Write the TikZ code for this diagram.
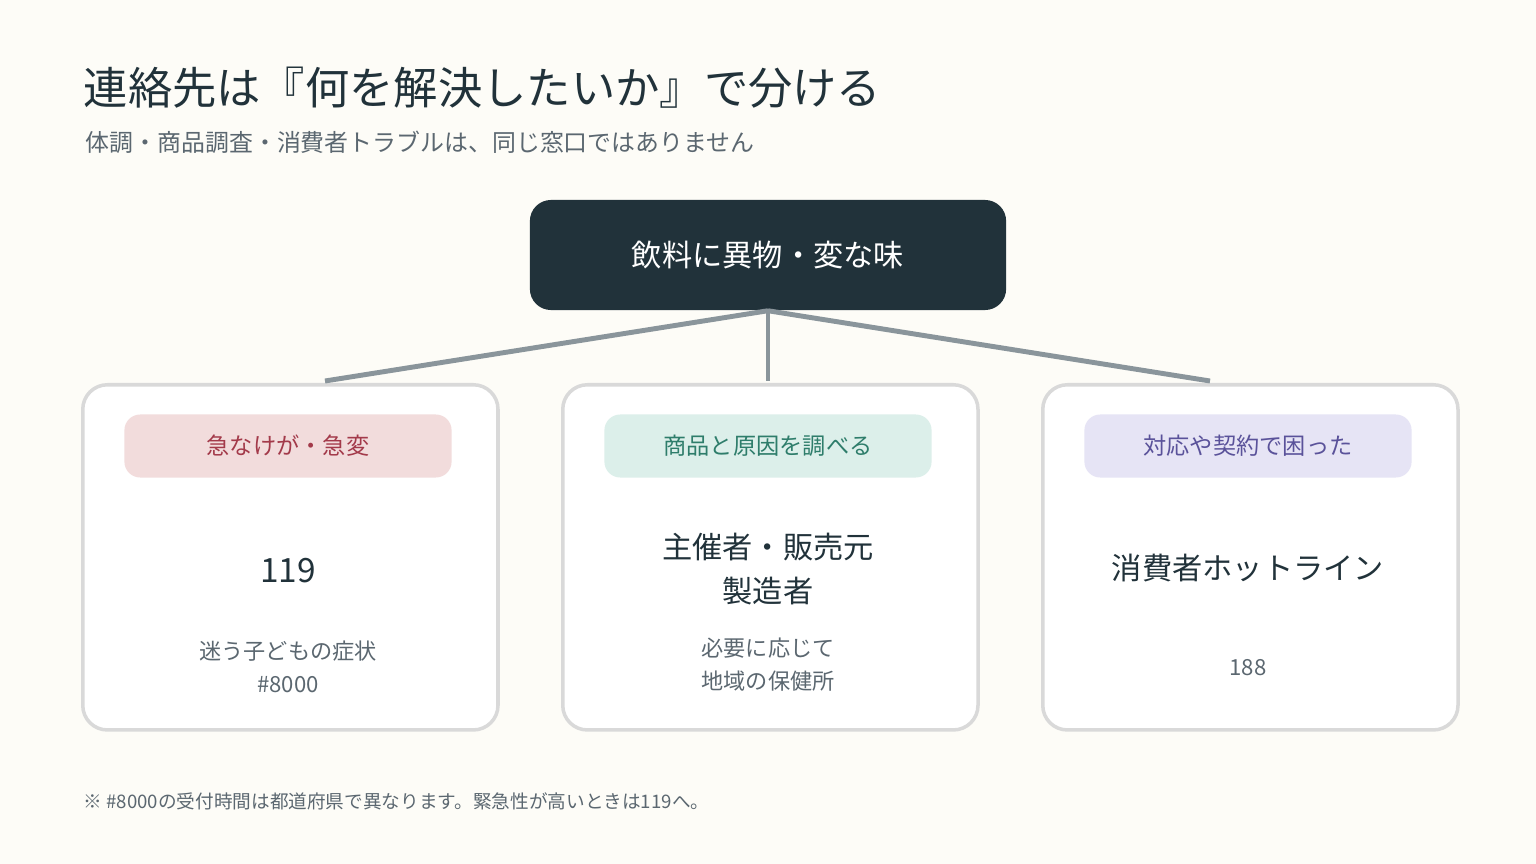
\documentclass[tikz,border=0pt]{standalone}
\usepackage{fontspec}
\setmainfont{Noto Sans CJK JP}
\usetikzlibrary{positioning}
\definecolor{bgcol}{HTML}{FDFCF7}
\definecolor{ink}{HTML}{21323A}
\definecolor{subink}{HTML}{5B6770}
\definecolor{linkcol}{HTML}{8A959B}
\definecolor{edgecol}{HTML}{D9D9D9}
\definecolor{pinkbg}{HTML}{F2DCDC}
\definecolor{pinkfg}{HTML}{A33A4A}
\definecolor{tealbg}{HTML}{DCEFEA}
\definecolor{tealfg}{HTML}{2E7D6B}
\definecolor{lavbg}{HTML}{E6E4F5}
\definecolor{lavfg}{HTML}{5A529A}
\tikzset{
  card/.style={draw=edgecol,line width=1pt,fill=white,rounded corners=7pt,
    minimum width=4.15cm,minimum height=3.45cm,anchor=north west},
  pill/.style={rounded corners=4.5pt,minimum width=3.27cm,minimum height=0.63cm,
    font=\fontsize{6.6pt}{8pt}\selectfont},
  main/.style={text=ink,align=center,font=\fontsize{8.6pt}{12.6pt}\selectfont},
  small/.style={text=subink,align=center,font=\fontsize{6.3pt}{9.4pt}\selectfont},
  link/.style={draw=linkcol,line width=1.4pt}
}
\begin{document}
\begin{tikzpicture}[x=0.01cm,y=-0.01cm]
  \fill[bgcol] (0,0) rectangle (1536,864);
  \useasboundingbox (0,0) rectangle (1536,864);

  \node[anchor=base west,text=ink,font=\fontsize{12.6pt}{14pt}\selectfont,inner sep=0] (title) at (83,105)
    {連絡先は『何を解決したいか』で分ける};
  \node[anchor=base west,text=subink,font=\fontsize{6.8pt}{8pt}\selectfont,inner sep=0] (subtitle) at (85,152)
    {体調・商品調査・消費者トラブルは、同じ窓口ではありません};

  \node[fill=ink,rounded corners=6pt,minimum width=4.76cm,minimum height=1.1cm,
    text=white,font=\fontsize{8.6pt}{10pt}\selectfont] (topic) at (768,255) {飲料に異物・変な味};

  % three cards
  \node[card] (left) at (81,383) {};
  \node[card] (mid) at (561,383) {};
  \node[card] (right) at (1041,383) {};

  \coordinate (lend) at (325,381);
  \coordinate (mend) at (768,381);
  \coordinate (rend) at (1210,381);
  \draw[link] (topic.south) -- (lend);
  \draw[link] (topic.south) -- (mend);
  \draw[link] (topic.south) -- (rend);

  \node[pill,fill=pinkbg,text=pinkfg] (lpill) at (288,446) {急なけが・急変};
  \node[pill,fill=tealbg,text=tealfg] (mpill) at (768,446) {商品と原因を調べる};
  \node[pill,fill=lavbg,text=lavfg] (rpill) at (1248,446) {対応や契約で困った};

  \node[main,font=\fontsize{9.5pt}{12pt}\itshape\selectfont] (lmain) at (288,571) {119};
  \node[small] (lsub) at (288,667) {迷う子どもの症状\\\#8000};

  \node[main] (mmain) at (768,569) {主催者・販売元\\製造者};
  \node[small] (msub) at (768,665) {必要に応じて\\地域の保健所};

  \node[main] (rmain) at (1248,568) {消費者ホットライン};
  \node[small] (rsub) at (1248,668) {188};

  \node[anchor=base west,text=subink,font=\fontsize{5.3pt}{7pt}\selectfont,inner sep=0] (note) at (83,808)
    {※ \#8000の受付時間は都道府県で異なります。緊急性が高いときは119へ。};
\end{tikzpicture}
\end{document}
